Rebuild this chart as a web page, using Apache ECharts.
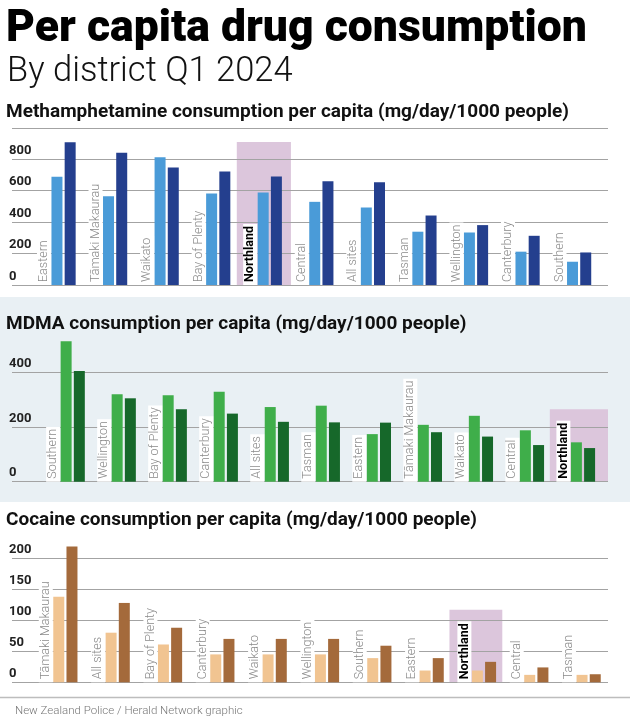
<!DOCTYPE html>
<html>
<head>
<meta charset="utf-8">
<script src="https://cdn.jsdelivr.net/npm/echarts@6/dist/echarts.min.js"></script>
<style>
  html, body { margin: 0; padding: 0; background: #fff; }
  #main { width: 630px; height: 720px; }
</style>
</head>
<body>
<div id="main"></div>
<script>
// ========================== 数据 ==========================
// Methamphetamine
var methDistricts = ['Eastern', 'Tāmaki Makaurau', 'Waikato', 'Bay of Plenty', 'Northland', 'Central', 'All sites', 'Tasman', 'Wellington', 'Canterbury', 'Southern'];
var methPrev = [688, 565, 813, 582, 588, 529, 493, 339, 334, 212, 148];
var methCurr = [908, 842, 747, 722, 690, 660, 654, 442, 381, 313, 207];
var methTicks = [0, 200, 400, 600, 800];

// MDMA
var mdmaDistricts = ['Southern', 'Wellington', 'Bay of Plenty', 'Canterbury', 'All sites', 'Tasman', 'Eastern', 'Tāmaki Makaurau', 'Waikato', 'Central', 'Northland'];
var mdmaPrev = [514, 320, 316, 329, 273, 278, 174, 208, 241, 188, 144];
var mdmaCurr = [405, 305, 265, 249, 219, 217, 216, 181, 165, 134, 123];
var mdmaTicks = [0, 200, 400];

// Cocaine
var cocaineDistricts = ['Tāmaki Makaurau', 'All sites', 'Bay of Plenty', 'Canterbury', 'Waikato', 'Wellington', 'Southern', 'Eastern', 'Northland', 'Central', 'Tasman'];
var cocainePrev = [138, 80, 61, 45, 45, 45, 39, 19, 19, 12, 12];
var cocaineCurr = [219, 128, 88, 70, 70, 70, 59, 39, 33, 24, 13];
var cocaineTicks = [0, 50, 100, 150, 200];

var highlight = 'Northland';

// ========================== 面板配置 ==========================
var panels = [
  {
    names: methDistricts, prev: methPrev, curr: methCurr, ticks: methTicks,
    colors: ['#4a9bd8', '#243f8e'],
    top: 127.8, height: 157.2, yMax: 1000, yStep: 200, showMaxLine: true,
    xMin: -1.0, xMax: 10.56,
    box: [-0.64, 0.41, 910]
  },
  {
    names: mdmaDistricts, prev: mdmaPrev, curr: mdmaCurr, ticks: mdmaTicks,
    colors: ['#3fae4a', '#16682a'],
    top: 331.3, height: 150.4, yMax: 550, yStep: 200, showMaxLine: false,
    xMin: -1.19, xMax: 10.49,
    box: [-0.65, 0.5, 265]
  },
  {
    names: cocaineDistricts, prev: cocainePrev, curr: cocaineCurr, ticks: cocaineTicks,
    colors: ['#f1c491', '#a46a3b'],
    top: 542.8, height: 139.5, yMax: 225, yStep: 50, showMaxLine: false,
    xMin: -1.02, xMax: 10.37,
    box: [-0.66, 0.35, 117]
  }
];

var grids = [], xAxes = [], yAxes = [], series = [];

panels.forEach(function (p, i) {
  grids.push({ left: 12, width: 596, top: p.top, height: p.height });

  xAxes.push({
    gridIndex: i, type: 'value', min: p.xMin, max: p.xMax, show: false
  });

  yAxes.push({
    gridIndex: i, type: 'value', min: 0, max: p.yMax, interval: p.yStep, z: 1,
    axisLine: { show: false },
    axisTick: { show: false },
    axisLabel: {
      inside: true, margin: -3, align: 'left', verticalAlign: 'bottom',
      padding: [0, 0, 2, 0],
      fontFamily: 'Roboto', fontWeight: 'bold', fontSize: 13, color: '#222',
      formatter: function (v) { return p.ticks.indexOf(v) > -1 ? String(v) : ''; }
    },
    splitLine: {
      show: true, showMaxLine: p.showMaxLine,
      lineStyle: { color: '#a3a3a3', width: 1.2 }
    }
  });

  var hi = p.names.indexOf(highlight);

  // 浅色柱 + 地区名称
  series.push({
    name: 'Previous', type: 'bar', xAxisIndex: i, yAxisIndex: i,
    barWidth: 11, barGap: '20%',
    itemStyle: { color: p.colors[0] },
    label: {
      show: true, position: 'insideBottom', distance: 0, rotate: 90,
      align: 'left', verticalAlign: 'middle', offset: [0, -13],
      padding: [1, 2, 0, 3], backgroundColor: '#fff',
      fontFamily: 'Roboto', fontWeight: 300, fontSize: 12.5, color: '#8a8a8a',
      formatter: function (params) { return p.names[params.dataIndex]; }
    },
    data: p.prev.map(function (v, k) {
      var item = { value: [k, v] };
      if (k === hi) item.label = { color: '#000', fontWeight: 'bold' };
      return item;
    })
  });

  // 深色柱 + 高亮区域
  series.push({
    name: 'Latest', type: 'bar', xAxisIndex: i, yAxisIndex: i,
    barWidth: 11, barGap: '20%',
    itemStyle: { color: p.colors[1] },
    markArea: {
      silent: true, z: 0,
      itemStyle: { color: '#dcc6dc' },
      data: [[
        { xAxis: hi + p.box[0], yAxis: 0 },
        { xAxis: hi + p.box[1], yAxis: p.box[2] }
      ]]
    },
    data: p.curr.map(function (v, k) { return [k, v]; })
  });
});

var myChart = echarts.init(document.getElementById('main'));
var option = {
  animation: false,
  backgroundColor: '#fff',
  textStyle: { fontFamily: 'Roboto' },
  title: [
    {
      text: 'Per capita drug consumption', left: 6, top: 7, padding: 0,
      textStyle: { fontFamily: 'Roboto', fontWeight: 900, fontSize: 44.5, color: '#000' }
    },
    {
      text: 'By district Q1 2024', left: 7, top: 55, padding: 0,
      textStyle: { fontFamily: 'Roboto', fontWeight: 300, fontSize: 34.5, color: '#111' }
    },
    {
      text: 'Methamphetamine consumption per capita (mg/day/1000 people)', left: 6, top: 103, padding: 0,
      textStyle: { fontFamily: 'Roboto', fontWeight: 'bold', fontSize: 19, color: '#111' }
    },
    {
      text: 'MDMA consumption per capita (mg/day/1000 people)', left: 6, top: 314.5, padding: 0,
      textStyle: { fontFamily: 'Roboto', fontWeight: 'bold', fontSize: 19, color: '#111' }
    },
    {
      text: 'Cocaine consumption per capita (mg/day/1000 people)', left: 6, top: 511, padding: 0,
      textStyle: { fontFamily: 'Roboto', fontWeight: 'bold', fontSize: 19, color: '#111' }
    },
    {
      text: 'New Zealand Police / Herald Network graphic', left: 15, top: 705, padding: 0,
      textStyle: { fontFamily: 'Roboto', fontWeight: 300, fontSize: 11.5, color: '#777' }
    }
  ],
  graphic: [
    {
      type: 'rect', z: -10, silent: true,
      shape: { x: 0, y: 297, width: 630, height: 205 },
      style: { fill: '#e9f0f4' }
    },
    {
      type: 'line', silent: true,
      shape: { x1: 0, y1: 697.5, x2: 630, y2: 697.5 },
      style: { stroke: '#bdbdbd', lineWidth: 1.5 }
    }
  ],
  grid: grids,
  xAxis: xAxes,
  yAxis: yAxes,
  series: series
};

myChart.setOption(option);
</script>
</body>
</html>
